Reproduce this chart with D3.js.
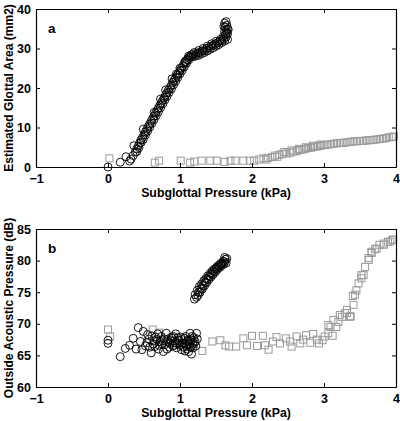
<!DOCTYPE html>
<html><head><meta charset="utf-8">
<script src="https://cdn.jsdelivr.net/npm/d3@7"></script>
<style>body{margin:0;background:#fff}svg{display:block}text{font-family:"Liberation Sans",Arial,sans-serif;font-weight:bold}</style>
</head><body>
<svg id="c" width="400" height="421"></svg>
<script>
const xTicks = [-1, 0, 1, 2, 3, 4];
const xTickLabels = ["\u22121", "0", "1", "2", "3", "4"];
const yTicksA = [0, 10, 20, 30, 40];
const yTicksB = [60, 65, 70, 75, 80, 85];
const xTitle = "Subglottal Pressure (kPa)";
const yTitleA = "Estimated Glottal Area (mm2)";
const yTitleB = "Outside Acoustic Pressure (dB)";

// Panel a: circles (glottal area vs subglottal pressure)
const aCircX = [0,0.17,0.25,0.30,0.36,0.49,0.64,0.73,0.80,0.89,0.95,1.00,1.07,1.12,
 0.32,0.35,0.38,0.40,0.42,0.44,0.46,0.48,0.50,0.52,0.54,0.56,0.58,0.60,0.62,0.64,0.66,0.68,0.70,0.72,0.74,0.76,0.78,0.80,0.82,0.84,0.86,0.88,0.90,0.92,0.94,0.96,0.98,1.00,1.02,1.04,1.06,1.08,1.10,1.12,1.14,
 0.40,0.43,0.46,0.49,0.52,0.55,0.58,0.61,0.64,0.67,0.70,0.73,0.76,0.79,0.82,0.85,0.88,0.91,0.94,0.97,1.00,1.03,1.06,1.09,1.12,1.15,
 1.16,1.19,1.22,1.25,1.28,1.31,1.34,1.37,1.40,1.43,1.46,1.49,1.52,1.55,1.58,1.61,1.64,
 1.18,1.22,1.26,1.30,1.34,1.38,1.42,1.46,1.50,1.54,1.58,1.62,1.66,
 1.20,1.26,1.32,1.38,1.44,1.50,1.56,1.60,
 1.63,1.65,1.64,1.66,1.63,1.65,1.62,1.64,1.66,1.62,1.67,1.61];
const aCircY = [0,1.2,2.6,1.5,5.4,9.6,13.8,17.2,19.5,22.3,23.5,25.0,26.7,28.1,
 2.0,2.9,3.8,4.6,5.3,6.1,6.9,7.5,8.2,8.9,9.6,10.3,10.9,11.6,12.3,12.9,13.6,14.3,14.9,15.6,16.2,16.9,17.5,18.2,18.8,19.5,20.1,20.7,21.4,22.0,22.6,23.2,23.8,24.4,25.0,25.6,26.2,26.7,27.2,27.6,28.0,
 3.9,4.9,6.2,7.0,8.1,9.1,10.1,11.1,12.0,13.0,14.0,15.0,16.0,17.0,17.9,18.9,19.8,20.8,21.7,22.7,23.6,24.5,25.4,26.3,27.1,27.8,
 28.4,28.6,28.5,28.9,29.0,29.4,29.5,30.0,30.2,30.6,30.8,31.2,31.4,31.8,32.0,32.5,32.9,
 27.9,28.1,28.3,28.7,29.0,29.4,29.8,30.2,30.6,31.0,31.5,31.9,32.3,
 29.0,29.5,30.0,30.6,31.2,31.8,32.3,33.0,
 33.5,34.0,34.6,35.0,35.4,35.9,36.4,36.8,33.7,34.3,34.8,35.6];

// Panel a: squares
const aSqX = [0.02,0.65,0.71,1.01,1.14,1.20,1.30,1.42,1.51,1.62,1.70,1.77,1.88,1.97,2.03,2.10,2.16,2.22,2.28,2.32,2.38,2.42,2.48,2.53,2.57,2.62,2.66,2.70,2.74,2.78,2.82,2.86,2.90,2.94,2.98,3.02,3.06,3.10,3.14,3.18,3.22,3.26,3.30,3.34,3.38,3.42,3.46,3.50,3.54,3.58,3.62,3.66,3.70,3.74,3.78,3.82,3.86,3.90,3.94,3.97,
 2.45,2.55,2.65,2.75,2.85,2.95,2.20,2.35];
const aSqY = [2.2,1.1,1.6,1.6,1.1,1.4,1.6,1.6,1.6,1.3,1.6,1.6,1.6,1.6,1.6,1.9,2.2,2.3,2.5,2.9,3.1,3.3,3.4,3.6,3.9,4.0,4.3,4.4,4.6,4.8,4.9,5.1,5.2,5.3,5.5,5.6,5.7,5.8,5.9,6.0,6.1,6.1,6.2,6.3,6.4,6.5,6.5,6.6,6.6,6.7,6.8,6.8,6.9,7.0,7.1,7.2,7.3,7.5,7.6,7.7,
 3.8,4.2,4.6,5.0,5.4,5.7,1.9,2.6];

// Panel b: circles
const bCircX = [0.00,0.00,0.17,0.24,0.30,0.35,0.42,0.39,0.47,0.49,0.45,0.54,0.58,0.61,0.63,0.65,0.68,0.70,0.72,0.74,0.77,0.79,0.81,0.83,0.85,0.86,0.88,0.90,0.91,0.93,0.95,0.97,0.98,1.00,1.02,1.03,1.05,1.07,1.08,1.10,1.12,1.13,1.14,1.15,1.16,1.16,1.18,1.19,1.21,1.22,1.23,1.24,
 0.55,0.60,0.66,0.69,0.75,0.78,0.82,0.87,0.92,0.94,0.99,1.01,1.04,1.06,1.09,1.11,1.13,1.17,1.20,1.18,0.84,0.76,0.71,0.64,0.52,0.57,0.89,0.96,1.14,1.10,1.07,
 1.20,1.21,1.23,1.24,1.26,1.27,1.29,1.30,1.32,1.33,1.35,1.36,1.38,1.39,1.41,1.42,1.44,1.45,1.47,1.48,1.50,1.51,1.53,1.54,1.56,1.57,1.59,1.60,1.62,1.63,1.64,1.65,1.62,
 1.25,1.28,1.31,1.34,1.37,1.40,1.43,1.46,1.49,1.52,1.55,1.58,1.61];
const bCircY = [67.4,66.9,64.8,66.1,66.6,67.7,69.4,66.0,65.9,68.8,67.2,67.0,66.3,68.1,66.8,66.4,67.5,66.0,67.2,68.0,65.6,66.7,68.5,67.6,66.3,66.9,67.9,66.5,68.0,67.0,66.2,67.8,67.4,66.6,65.9,67.5,66.3,66.9,68.0,67.2,65.6,66.8,68.5,67.5,66.4,65.2,67.0,67.8,67.2,66.5,68.5,67.6,
 68.3,65.4,67.9,68.4,66.8,67.6,66.0,67.3,66.6,68.4,66.9,67.9,66.9,67.7,66.5,67.4,67.3,68.0,66.9,66.2,67.1,67.3,66.6,67.3,66.5,67.6,67.7,66.9,66.3,66.0,65.7,
 73.9,74.6,74.2,75.3,75.0,75.9,75.6,76.3,76.1,76.8,76.6,77.2,77.1,77.6,77.5,78.0,77.9,78.4,78.3,78.7,78.7,79.0,79.0,79.3,79.3,79.6,79.5,79.9,79.8,80.2,79.6,80.3,80.5,
 74.5,75.0,75.5,76.0,76.5,77.0,77.4,77.8,78.2,78.6,78.9,79.2,79.5];

// Panel b: squares
const bSqX = [0.00,0.03,0.62,0.71,1.31,1.45,1.56,1.63,1.68,1.78,1.88,1.93,2.00,2.07,2.15,2.18,2.23,2.29,2.34,2.39,2.47,2.53,2.55,2.62,2.67,2.71,2.75,2.81,2.85,2.90,2.93,2.98,3.01,3.06,3.09,3.12,3.17,3.20,3.25,3.29,3.32,3.37,3.41,3.40,3.45,3.48,3.52,3.55,3.57,3.62,3.66,3.71,3.77,3.83,3.89,3.95,
 3.06,3.13,3.22,3.32,3.36,3.43,3.52,3.62,3.66,3.73,3.83,3.92,3.96];
const bSqY = [69.1,68.0,69.1,68.6,65.7,67.2,67.4,66.6,66.4,66.4,67.7,66.6,68.1,66.5,68.1,66.6,65.9,67.2,67.9,66.9,67.7,67.2,66.4,68.0,66.9,67.5,68.2,67.0,68.4,67.5,66.9,67.4,68.0,68.5,69.5,68.1,69.5,70.3,71.1,71.7,72.2,71.2,73.0,74.4,75.3,76.4,77.2,77.7,79.0,80.1,81.4,81.8,82.5,82.7,83.0,83.3,
 69.8,70.6,71.4,71.7,71.1,74.6,77.7,80.4,81.2,81.9,82.5,83.0,83.3];

const svg = d3.select("#c");
const x = d3.scaleLinear().domain([-1, 4]).range([36, 396]);

function panel(top, yDomain, yTicks, yTitle, label, cx, cy, sx, sy) {
  const y = d3.scaleLinear().domain(yDomain).range([top + 158, top]);
  const g = svg.append("g");
  const sq = 7;
  g.selectAll("rect.s").data(d3.range(sx.length)).join("rect")
    .attr("x", i => x(sx[i]) - sq/2).attr("y", i => y(sy[i]) - sq/2)
    .attr("width", sq).attr("height", sq)
    .attr("fill", "none").attr("stroke", "#9a9a9a").attr("stroke-width", 1);
  g.selectAll("circle").data(d3.range(cx.length)).join("circle")
    .attr("cx", i => x(cx[i])).attr("cy", i => y(cy[i])).attr("r", 4)
    .attr("fill", "none").attr("stroke", "#000").attr("stroke-width", 0.9);
  const tl = 4;
  const ax = g.append("g");
  ax.append("g").attr("transform", `translate(0,${top+158})`)
    .call(d3.axisBottom(x).tickValues(xTicks).tickSizeInner(-tl).tickSizeOuter(0).tickPadding(7)
      .tickFormat((d,i) => xTickLabels[i]));
  ax.append("g").attr("transform", `translate(0,${top})`)
    .call(d3.axisTop(x).tickValues(xTicks).tickSizeInner(-tl).tickSizeOuter(0).tickFormat(""));
  ax.append("g").attr("transform", `translate(36,0)`)
    .call(d3.axisLeft(y).tickValues(yTicks).tickSizeInner(-tl).tickSizeOuter(0).tickPadding(5));
  ax.append("g").attr("transform", `translate(396,0)`)
    .call(d3.axisRight(y).tickValues(yTicks).tickSizeInner(-tl).tickSizeOuter(0).tickFormat(""));
  ax.selectAll(".domain").attr("stroke", "#000").attr("stroke-width", 1.2);
  ax.selectAll(".tick line").attr("stroke", "#000").attr("stroke-width", 1);
  ax.selectAll(".tick text").attr("font-size", 12.5).attr("font-weight", "bold").attr("fill", "#000")
    .attr("font-family", '"Liberation Sans", Arial, sans-serif');
  g.append("text").attr("x", 216).attr("y", top + 188).attr("text-anchor", "middle")
    .attr("font-size", 12.3).text(xTitle);
  g.append("text").attr("transform", `translate(13,${top + 79}) rotate(-90)`).attr("text-anchor", "middle")
    .attr("font-size", 12).text(yTitle);
  g.append("text").attr("x", 48).attr("y", top + 24).attr("font-size", 13.5).text(label);
}
panel(9, [0, 40], yTicksA, yTitleA, "a", aCircX, aCircY, aSqX, aSqY);
panel(229, [60, 85], yTicksB, yTitleB, "b", bCircX, bCircY, bSqX, bSqY);
</script>
</body></html>
